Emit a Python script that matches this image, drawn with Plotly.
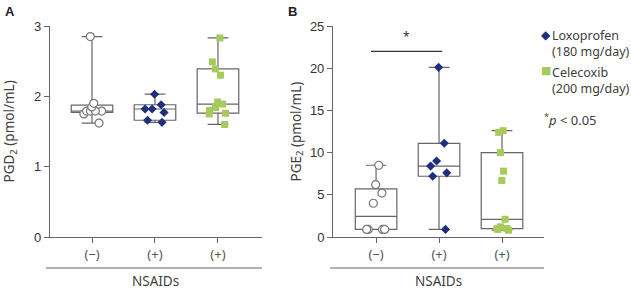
import plotly.graph_objects as go

# ---------------- data ----------------
groups = ["(−)", "(+)", "(+)"]
pgd2_ctrl = [2.85, 1.90, 1.85, 1.79, 1.79, 1.79, 1.79, 1.75, 1.62]
pgd2_loxo = [2.03, 1.88, 1.82, 1.82, 1.77, 1.66, 1.63]
pgd2_cele = [2.83, 2.49, 2.39, 2.30, 1.92, 1.89, 1.84, 1.80, 1.76, 1.75, 1.60]
pge2_ctrl = [8.5, 6.2, 5.2, 4.0, 0.9, 0.9, 0.9, 0.9]
pge2_loxo = [20.1, 11.1, 9.0, 8.4, 7.6, 7.2, 0.9]
pge2_cele = [12.6, 12.4, 10.0, 7.8, 6.7, 2.1, 1.2, 1.0, 1.0, 0.9, 0.8]
sig_level = 22.0
legend_names = ["Loxoprofen<br>(180 mg/day)", "Celecoxib<br>(200 mg/day)"]

# ---------------- styles ----------------
NAVY = "#1f2f7e"
GREEN = "#a8c95c"
GRAY = "#666666"
TXT = "#404040"
FONT = "Noto Sans"

styles = [
    dict(symbol="circle", color="white", size=8, line=dict(color="#777777", width=1.2)),
    dict(symbol="diamond", color=NAVY, size=7, line=dict(width=0)),
    dict(symbol="square", color=GREEN, size=7, line=dict(width=0)),
]

fig = go.Figure()

def add_panel(datasets, xa, ya, jit):
    for i, (vals, st) in enumerate(zip(datasets, styles)):
        fig.add_trace(go.Box(
            y=vals, x0=i, width=0.66, boxpoints=False, quartilemethod="exclusive",
            line=dict(color=GRAY, width=1.2), fillcolor="rgba(0,0,0,0)",
            whiskerwidth=0.5, xaxis=xa, yaxis=ya, showlegend=False, hoverinfo="skip"))
        fig.add_trace(go.Box(
            y=vals, x0=i, width=0.66, boxpoints="all", jitter=jit, pointpos=0,
            quartilemethod="exclusive",
            line=dict(color="rgba(0,0,0,0)", width=0), fillcolor="rgba(0,0,0,0)",
            marker=st, xaxis=xa, yaxis=ya, showlegend=False, hoverinfo="skip"))

add_panel([pgd2_ctrl, pgd2_loxo, pgd2_cele], "x", "y", 0.65)
add_panel([pge2_ctrl, pge2_loxo, pge2_cele], "x2", "y2", 0.6)

axis_common = dict(showline=True, linecolor=GRAY, linewidth=1.2, ticks="outside",
                   ticklen=5, tickcolor=GRAY, tickwidth=1.2, showgrid=False, zeroline=False)

fig.update_layout(
    width=631, height=291,
    margin=dict(l=50, r=87, t=26, b=54),
    paper_bgcolor="white", plot_bgcolor="white",
    font=dict(family=FONT, size=13, color=TXT),
    xaxis=dict(domain=[0, 0.429], range=[-0.667, 2.698], tickvals=[0, 1, 2],
               ticktext=groups, tickfont=dict(size=13, color="#555555"), **axis_common),
    xaxis2=dict(domain=[0.573, 1], range=[-0.683, 2.667], tickvals=[0, 1, 2],
                ticktext=groups, tickfont=dict(size=13, color="#555555"), anchor="y2", **axis_common),
    yaxis=dict(range=[0, 3], tickvals=[0, 1, 2, 3],
               tickfont=dict(family="Liberation Sans", size=13, color="#333333"), **axis_common),
    yaxis2=dict(range=[0, 25], tickvals=[0, 5, 10, 15, 20, 25], anchor="x2",
                tickfont=dict(family="Liberation Sans", size=13, color="#333333"), **axis_common),
    showlegend=False,
)

# y-axis titles
for x, txt in [(-0.081, "PGD<sub>2</sub> (pmol/mL)"), (0.498, "PGE<sub>2</sub> (pmol/mL)")]:
    fig.add_annotation(xref="paper", yref="paper", x=x, y=0.5, text=txt, textangle=-90,
                       showarrow=False, xanchor="center", yanchor="middle",
                       font=dict(size=13.5, color=TXT))

# NSAIDs grouping lines and labels
for xref, x0 in [("x domain", -0.019), ("x2 domain", -0.014)]:
    fig.add_shape(type="line", xref=xref, yref="paper", x0=x0, x1=1, y0=-0.147, y1=-0.147,
                  line=dict(color=GRAY, width=1.2))
    fig.add_annotation(xref=xref, yref="paper", x=0.5, y=-0.2085, text="NSAIDs",
                       showarrow=False, font=dict(size=13.5, color=TXT), yanchor="middle")

# significance bar
fig.add_shape(type="line", xref="x2", yref="y2", x0=-0.08, x1=1.05, y0=sig_level, y1=sig_level,
              line=dict(color="#333333", width=1.2))
fig.add_annotation(xref="x2", yref="y2", x=0.485, y=sig_level + 1.8, text="*", showarrow=False,
                   font=dict(size=12, color="#333333"))

# panel labels
fig.add_annotation(xref="paper", yref="paper", x=-0.081, y=1.07, text="<b>A</b>", showarrow=False,
                   xanchor="center", yanchor="middle", font=dict(family="Liberation Sans", size=13, color="#222222"))
fig.add_annotation(xref="paper", yref="paper", x=0.49, y=1.07, text="<b>B</b>", showarrow=False,
                   xanchor="center", yanchor="middle", font=dict(family="Liberation Sans", size=13, color="#222222"))

# manual legend (keys + text)
legend_keys = [("◆", NAVY, 12, 0.957), ("■", GREEN, 11, 0.787)]
legend_text_y = [0.917, 0.742]
for (glyph, col, fs, ky), name, ty in zip(legend_keys, legend_names, legend_text_y):
    fig.add_annotation(xref="paper", yref="paper", x=1.004, y=ky, text=glyph, showarrow=False,
                       xanchor="center", yanchor="middle",
                       font=dict(family="DejaVu Sans", size=fs, color=col))
    fig.add_annotation(xref="paper", yref="paper", x=1.012, y=ty, text=name, showarrow=False,
                       xanchor="left", yanchor="middle", align="left",
                       font=dict(size=12.5, color=TXT))

# p-value note
fig.add_annotation(xref="paper", yref="paper", x=0.996, y=0.559, text="<sup>*</sup><i>p</i> < 0.05",
                   showarrow=False, xanchor="left", yanchor="middle", font=dict(size=13, color=TXT))

fig.write_html("out.html")
